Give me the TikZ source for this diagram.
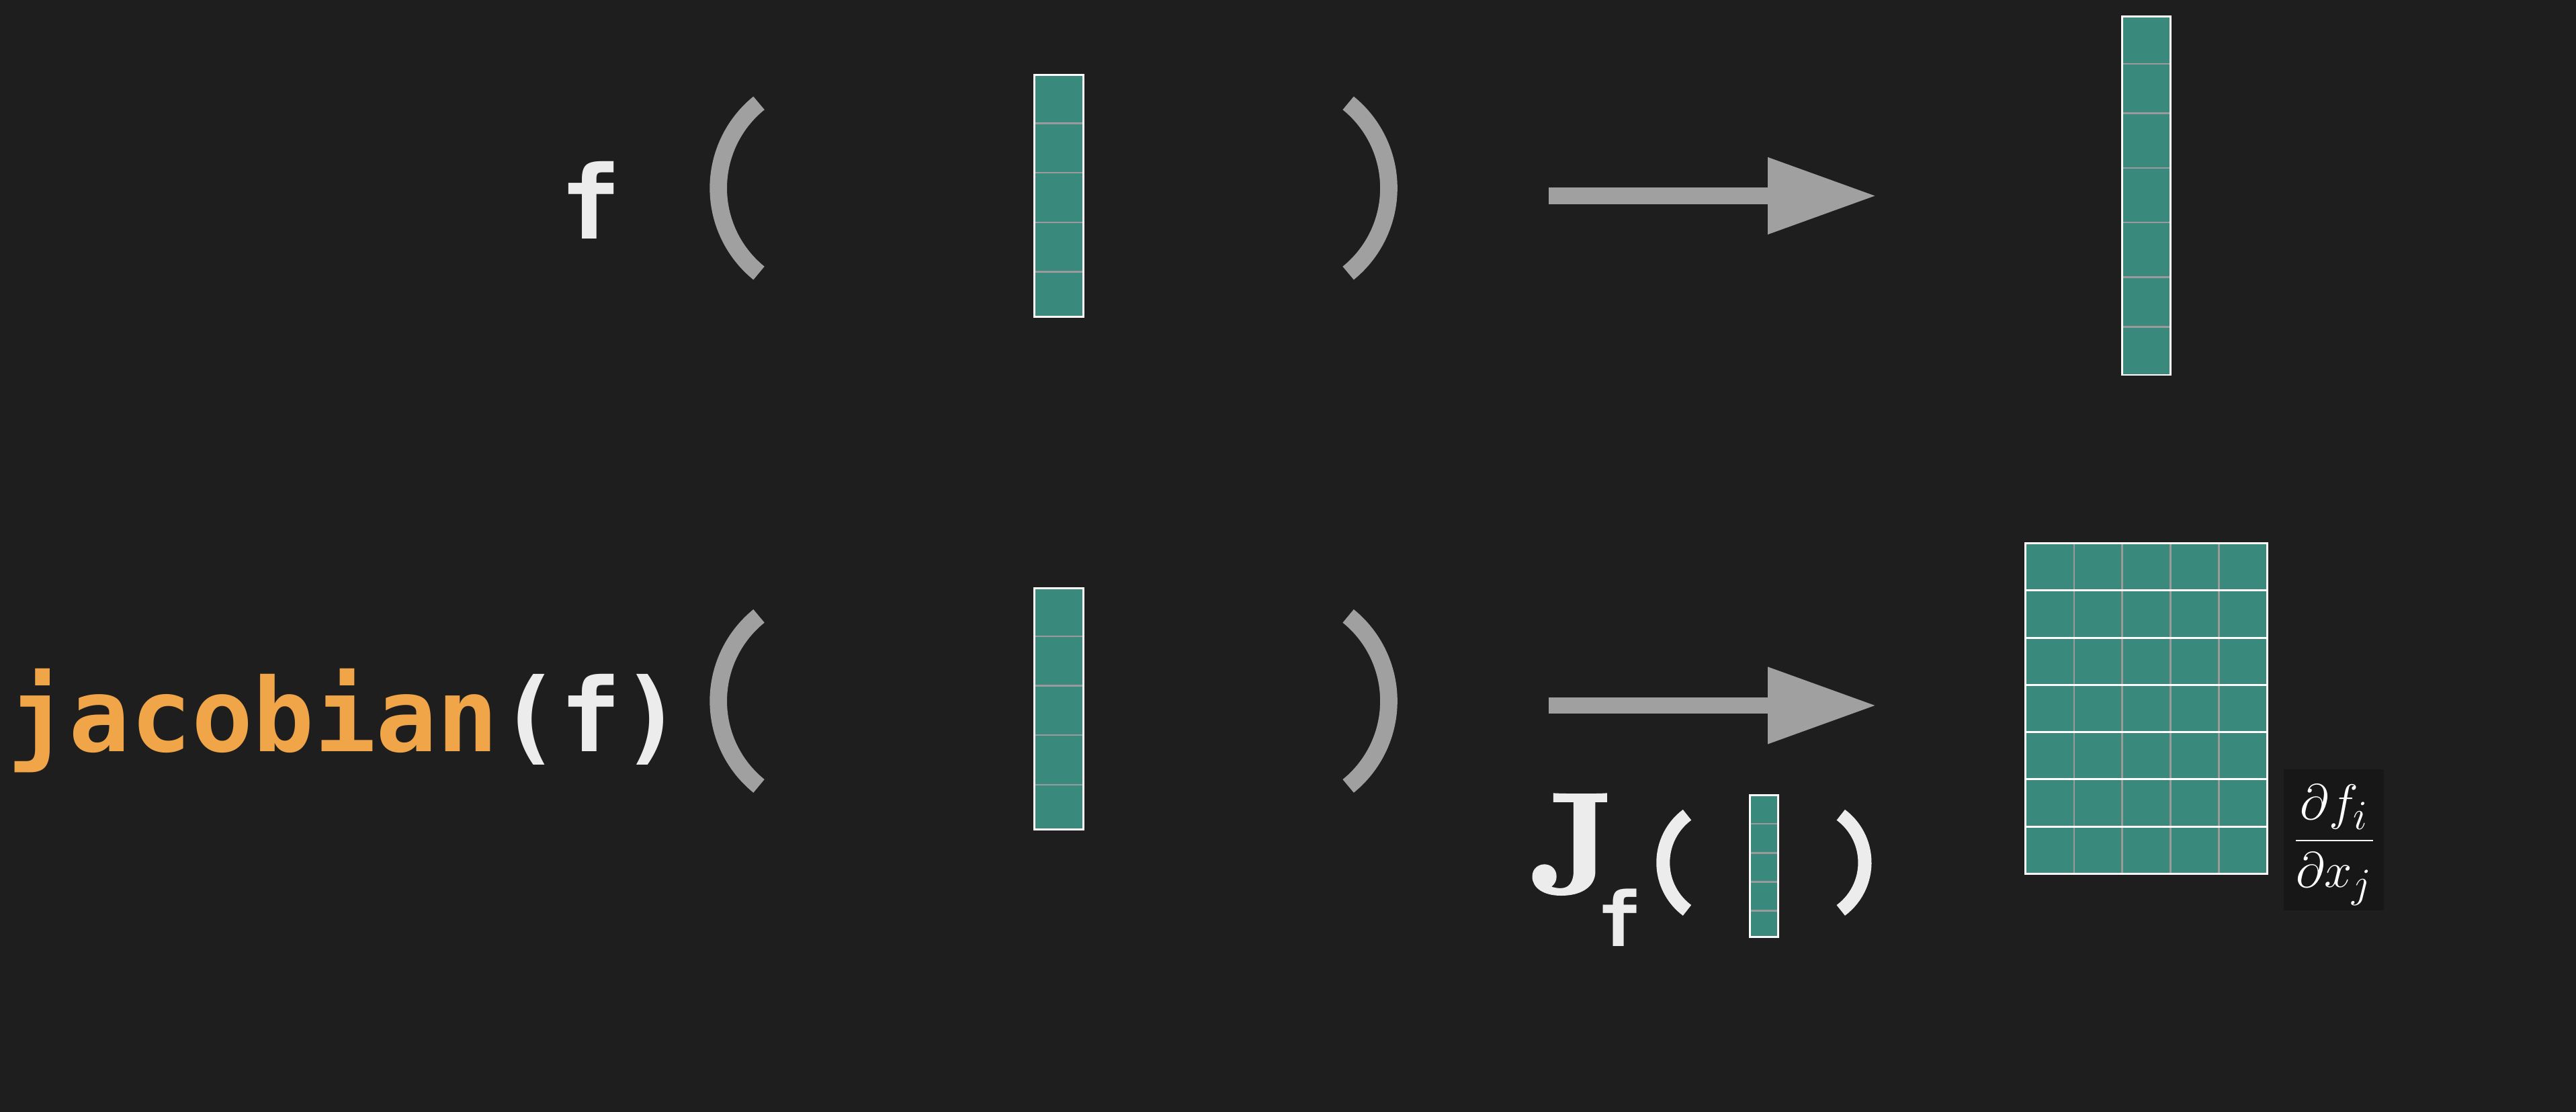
\documentclass[tikz,border=0pt]{standalone}
\usepackage{fontspec}
\newfontfamily\monofont{DejaVu Sans Mono}
\newfontfamily\jfont{lmroman10-bold.otf}[FakeBold=1.6]
\usetikzlibrary{arrows.meta}
\definecolor{bg}{HTML}{1E1E1E}
\definecolor{gry}{HTML}{A0A0A0}
\definecolor{tealc}{HTML}{3A897D}
\definecolor{orng}{HTML}{F0A548}
\definecolor{txt}{HTML}{ECECEC}
\definecolor{fracbg}{HTML}{171717}
\definecolor{sepc}{HTML}{9A9A9A}
\tikzset{
  cellfill/.style={fill=tealc},
  cellsep/.style={draw=sepc,line width=0.02cm},
  cellborder/.style={draw=white,line width=0.024cm},
  parenbig/.style={draw=gry,line width=0.21cm,line cap=butt},
  parensmall/.style={draw=txt,line width=0.164cm,line cap=butt},
  bigarrow/.style={draw=gry,line width=0.198cm,
    -{Triangle[length=1.304cm,width=0.942cm,line width=0pt]}},
  monotext/.style={inner sep=0pt,text=txt},
}
\begin{document}
\begin{tikzpicture}[x=0.02cm,y=-0.02cm]
\useasboundingbox (0,0) rectangle (1568,676.85);
\fill[bg] (0,0) rectangle (1568,676.85);

% ---------------- top row ----------------
\node[monotext,anchor=base,font=\monofont\bfseries\fontsize{35.3}{40}\selectfont] (ftop) at (359.7,145.5) {f};
\draw[parenbig] (503.85,114.5) ++(129:1.332cm) arc[start angle=129,end angle=231,radius=1.332cm];
\draw[parenbig] (778.75,114.5) ++(-51:1.332cm) arc[start angle=-51,end angle=51,radius=1.332cm];

% input column (top)
\fill[cellfill] (629.5,45.7) rectangle (659.4,192.9);
\foreach \yy in {75,105.1,135.3,165.5} \draw[cellsep] (629.5,\yy) -- (659.4,\yy);
\draw[cellborder] (629.5,45.7) rectangle (659.4,192.9);

% arrow (top)
\coordinate (a1s) at (942.6,119.2);
\coordinate (a1e) at (1141.2,119.2);
\draw[bigarrow] (a1s) -- (a1e);

% output column (top)
\fill[cellfill] (1291.8,10.1) rectangle (1321,228.2);
\foreach \yy in {38.9,69,102.3,135.4,168.7,199} \draw[cellsep] (1291.8,\yy) -- (1321,\yy);
\draw[cellborder] (1291.8,10.1) rectangle (1321,228.2);

% ---------------- bottom row ----------------
\node[monotext,anchor=base west,font=\monofont\bfseries\fontsize{35.3}{40}\selectfont] (jac) at (4.4,457.4)
  {\textcolor{orng}{jacobian}(f)};
\draw[parenbig] (503.85,426.7) ++(129:1.332cm) arc[start angle=129,end angle=231,radius=1.332cm];
\draw[parenbig] (778.75,426.7) ++(-51:1.332cm) arc[start angle=-51,end angle=51,radius=1.332cm];

% input column (bottom)
\fill[cellfill] (629.7,357.9) rectangle (659.3,504.8);
\foreach \yy in {387.2,417.3,447.5,477.7} \draw[cellsep] (629.7,\yy) -- (659.3,\yy);
\draw[cellborder] (629.7,357.9) rectangle (659.3,504.8);

% arrow (bottom)
\coordinate (a2s) at (942.6,429.4);
\coordinate (a2e) at (1141.2,429.4);
\draw[bigarrow] (a2s) -- (a2e);

% Jacobian matrix 7x5
\fill[cellfill] (1233,330.7) rectangle (1380,531.8);
\foreach \xx in {1262.4,1291.8,1321.2,1350.6} \draw[cellsep] (\xx,330.7) -- (\xx,531.8);
\foreach \r in {0,...,6} \draw[cellborder] (1233,330.7+28.73*\r) rectangle (1380,330.7+28.73*\r+28.73);

% partial derivative label
\fill[fracbg] (1389.9,468.3) rectangle (1451,554.2);
\node[inner sep=0pt,anchor=base,text=white,font=\fontsize{19}{23}\selectfont] (frac) at (1420.9,519.2)
  {$\displaystyle\frac{\partial f_i}{\partial x_j}$};

% J_f ( x )
\node[inner sep=0pt,anchor=base west,text=txt,font=\jfont\fontsize{49.8}{56}\selectfont] (J) at (931,543.5) {J};
\node[monotext,anchor=base,font=\monofont\bfseries\fontsize{26.2}{30}\selectfont] (Jsub) at (985.7,576) {f};
\draw[parensmall] (1048.5,525.05) ++(126.6:0.724cm) arc[start angle=126.6,end angle=233.4,radius=0.724cm];
\draw[parensmall] (1098.9,525.05) ++(-53.4:0.724cm) arc[start angle=-53.4,end angle=53.4,radius=0.724cm];
\fill[cellfill] (1065,484) rectangle (1082.4,570.4);
\foreach \yy in {501.4,519.1,536.7,554.3} \draw[cellsep] (1065,\yy) -- (1082.4,\yy);
\draw[cellborder] (1065,484) rectangle (1082.4,570.4);
\end{tikzpicture}
\end{document}
